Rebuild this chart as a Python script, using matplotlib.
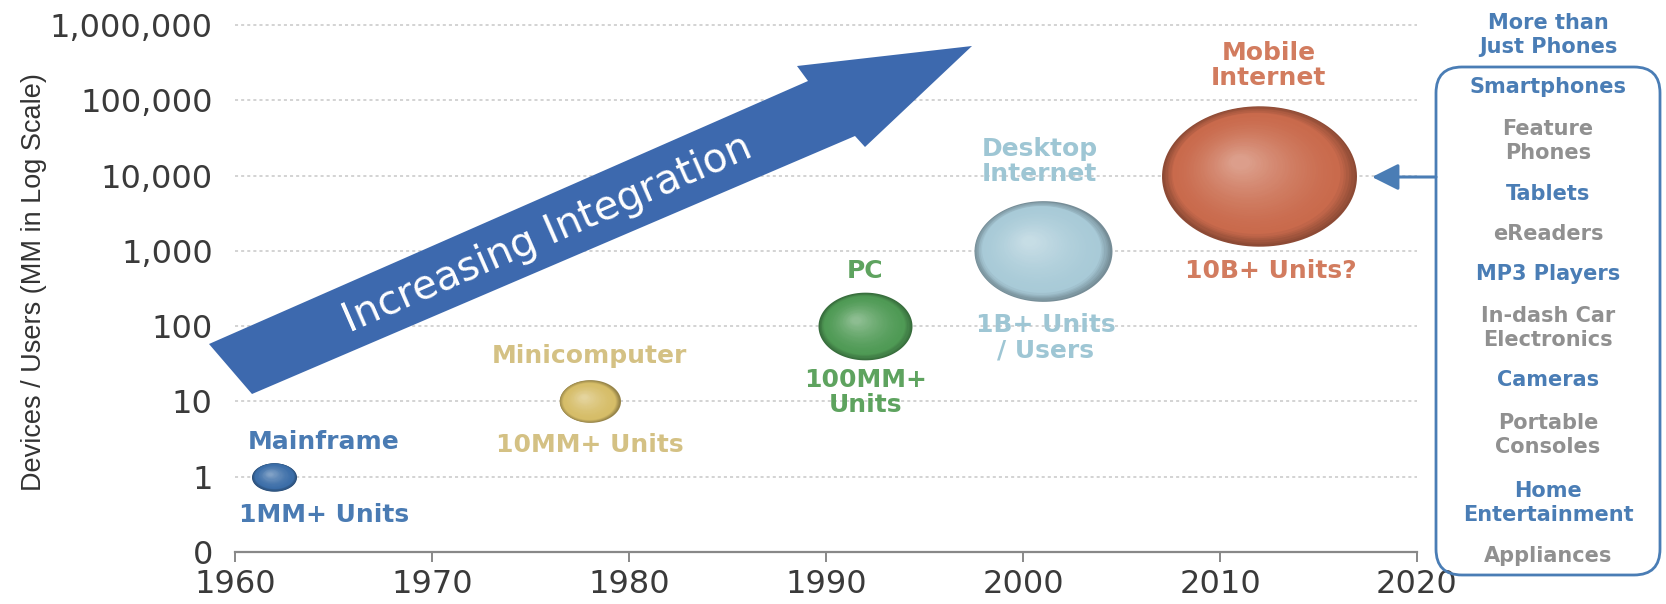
import numpy as np
import matplotlib
matplotlib.use("Agg")
import matplotlib.pyplot as plt
from matplotlib.path import Path
from matplotlib.patches import Polygon, FancyBboxPatch, FancyArrowPatch
from matplotlib.transforms import IdentityTransform, offset_copy
from matplotlib.colors import to_rgb

# data
eras = ["Mainframe", "Minicomputer", "PC", "Desktop\nInternet", "Mobile\nInternet"]
unit_labels = ["1MM+ Units", "10MM+ Units", "100MM+\nUnits", "1B+ Units\n/ Users", "10B+ Units?"]
years = [1962, 1978, 1992, 2001, 2012]
units_mm = [1, 10, 100, 1000, 10000]

y_ticks = [0.1, 1, 10, 100, 1e3, 1e4, 1e5, 1e6]
y_ticklabels = ["0", "1", "10", "100", "1,000", "10,000", "100,000", "1,000,000"]
x_ticks = [1960, 1970, 1980, 1990, 2000, 2010, 2020]

box_title = "More than\nJust Phones"
device_items = ["Smartphones", "Feature\nPhones", "Tablets", "eReaders", "MP3 Players",
                "In-dash Car\nElectronics", "Cameras", "Portable\nConsoles",
                "Home\nEntertainment", "Appliances"]

# styles / layout
W, H = 1666, 604
bubble_colors = ["#3c6ea8", "#d6bd68", "#4f9a55", "#a8cad7", "#c96a4c"]
label_colors = ["#4a7bb3", "#d4c184", "#5ea35f", "#9ec6d4", "#d27c5f"]
bubble_w = [45, 61, 94, 138, 195]       # px
bubble_aspect = [0.63, 0.70, 0.72, 0.73, 0.72]
name_off = [(49, 35), (0, 45), (0, 55), (-3, 89), (9, 110)]
unit_off = [(50, -38), (0, -44), (0, -66), (3, -87), (11, -96)]
item_y = [87, 141, 194, 234, 274, 328, 380, 435, 503, 556]
blue = "#4a7db5"
gray = "#909090"

plt.rcParams["font.family"] = ["DejaVu Sans"]

fig = plt.figure(figsize=(W / 100, H / 100), dpi=100)
decade = 75.3
top_px = 15
ax = fig.add_axes([235 / W, 1 - 552 / H, 1182 / W, (552 - top_px) / H])
ax.set_yscale("log")
ax.set_xlim(1960, 2020)
ax.set_ylim(0.1, 10 ** (-1 + (552 - top_px) / decade))

for s in ["top", "right", "left"]:
    ax.spines[s].set_visible(False)
ax.spines["bottom"].set_color("#888888")
ax.spines["bottom"].set_linewidth(1.6)

ax.set_xticks(x_ticks)
ax.set_xticklabels([str(x) for x in x_ticks])
ax.set_yticks(y_ticks)
ax.set_yticklabels(y_ticklabels)
ax.yaxis.set_minor_locator(matplotlib.ticker.NullLocator())
ax.tick_params(axis="x", direction="out", length=7, width=1.4, color="#888888",
               labelsize=23, labelcolor="#3a3a3a", pad=5)
ax.tick_params(axis="y", length=0, labelsize=23, labelcolor="#3a3a3a", pad=16)
ax.yaxis.grid(True, linestyle=(0, (2, 2)), color="#c8c8c8", linewidth=1.1)
ax.set_axisbelow(True)

ax.set_ylabel("Devices / Users (MM in Log Scale)", fontsize=19.5, color="#333333",
              family=["Liberation Sans", "DejaVu Sans"])
ax.yaxis.set_label_coords(-0.159, 0.503)


def ellipse_path(aspect):
    t = np.linspace(0, 2 * np.pi, 120)
    return Path(np.column_stack([np.cos(t), aspect * np.sin(t)]), closed=True)


def mix(c1, c2, f):
    a, b = np.array(to_rgb(c1)), np.array(to_rgb(c2))
    return tuple(a + (b - a) * f)


# shaded bubbles
n_layers = 40
for i in range(len(years)):
    marker = ellipse_path(bubble_aspect[i])
    base = bubble_colors[i]
    edge = mix(base, "black", 0.3)
    light = mix(base, "white", 0.35)
    w = bubble_w[i]
    for k in range(n_layers):
        f = k / (n_layers - 1)
        if f < 0.15:
            col = mix(edge, base, f / 0.15)
        else:
            col = mix(base, light, ((f - 0.15) / 0.85) ** 1.5)
        size_px = w * (1 - 0.9 * f)
        tr = offset_copy(ax.transData, fig=fig, x=-0.10 * w * f,
                         y=0.07 * w * f, units="dots")
        ax.scatter([years[i]], [units_mm[i]], s=(size_px * 0.72) ** 2, marker=marker,
                   color=col, linewidths=0, transform=tr, zorder=3 + k * 0.01)

    ax.annotate(eras[i], xy=(years[i], units_mm[i]), xytext=name_off[i],
                textcoords="offset pixels", ha="center", va="center", fontsize=18,
                fontweight="bold", color=label_colors[i], linespacing=1.05)
    ax.annotate(unit_labels[i], xy=(years[i], units_mm[i]), xytext=unit_off[i],
                textcoords="offset pixels", ha="center", va="center", fontsize=18,
                fontweight="bold", color=label_colors[i], linespacing=1.05)

ident = IdentityTransform()


def px(x, y):
    return (x, H - y)


# big "Increasing Integration" arrow
arrow_pts = [(209, 344), (808, 81), (797, 66), (972, 46), (865, 147), (855, 136), (252, 394)]
fig.add_artist(Polygon([px(*p) for p in arrow_pts], closed=True, facecolor="#3d69ae",
                       edgecolor="none", transform=ident, zorder=5))
fig.text(*px(548, 234), "Increasing Integration", transform=ident, rotation=23.6,
         rotation_mode="anchor", ha="center", va="center", fontsize=29, color="white",
         zorder=6)

# right-hand panel
fig.add_artist(FancyBboxPatch(px(1436, 575), 224, 508,
                              boxstyle="round,pad=0,rounding_size=26", transform=ident,
                              fill=False, edgecolor=blue, linewidth=2.0, zorder=5))
fig.add_artist(FancyArrowPatch(px(1436, 177), px(1372, 177), transform=ident,
                               arrowstyle="-|>,head_length=0.9,head_width=0.45",
                               mutation_scale=18, color=blue, linewidth=2.2,
                               shrinkA=0, shrinkB=0, zorder=5))
fig.text(*px(1548, 35), box_title, transform=ident, ha="center", va="center",
         fontsize=15, fontweight="bold", color=blue, linespacing=1.25)
for j, item in enumerate(device_items):
    fig.text(*px(1548, item_y[j]), item, transform=ident, ha="center", va="center",
             fontsize=15, fontweight="bold", color=blue if j % 2 == 0 else gray,
             linespacing=1.25)

fig.savefig("out.png", dpi=100)
